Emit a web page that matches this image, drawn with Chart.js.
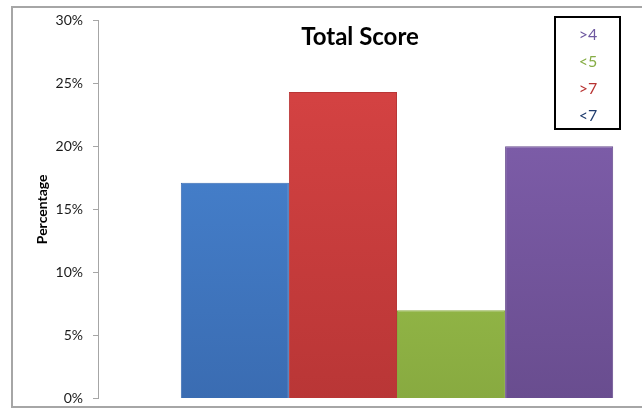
<!DOCTYPE html>
<html>
<head>
<meta charset="utf-8">
<script src="https://cdn.jsdelivr.net/npm/chart.js@4"></script>
<style>
  html, body { margin: 0; padding: 0; overflow: hidden; background: #fff; }
  #wrap { position: absolute; left: 0; top: 0; width: 700px; height: 417px; }
  #frame { position: absolute; left: 11px; top: 6px; width: 720px; height: 398px;
           border: 2px solid #a6a6a6; pointer-events: none; }
</style>
</head>
<body>
<div id="wrap"><canvas id="score_chart"></canvas></div>
<div id="frame"></div>
<script>
const seriesLabels = ['<7', '>7', '<5', '>4'];
const seriesValues = [17.1, 24.3, 7.0, 20.0];
const barTop = ['#4b8ad9', '#da4545', '#a8d155', '#8563b3'];
const barBottom = ['#3a6cb2', '#b93636', '#88aa40', '#694d8f'];
const legendText = ['#1f3c6e', '#b83332', '#86ad45', '#6e58a0'];
const categories = [''];

const font = 'Lato';

function gradientFor(i) {
    return (ctx) => {
        const area = ctx.chart.chartArea;
        if (!area) return barTop[i];
        const g = ctx.chart.ctx.createLinearGradient(0, area.top, 0, area.bottom);
        g.addColorStop(0, barTop[i]);
        g.addColorStop(1, barBottom[i]);
        return g;
    };
}

// title and legend box sit inside the plot, like the original
const overlay = {
    id: 'overlay',
    afterDraw(chart) {
        const c = chart.ctx;
        c.save();
        c.fillStyle = '#000';
        c.font = 'bold 24px ' + font;
        c.textAlign = 'center';
        c.textBaseline = 'middle';
        c.fillText('Total Score', 360, 37);

        c.fillStyle = '#fff';
        c.fillRect(555, 17, 65, 112);
        c.strokeStyle = '#000';
        c.lineWidth = 2;
        c.strokeRect(555, 17, 65, 112);
        c.font = '16px ' + font;
        for (let k = 0; k < seriesLabels.length; k++) {
            const i = seriesLabels.length - 1 - k;
            c.fillStyle = legendText[i];
            c.fillText(seriesLabels[i], 588, 35 + k * 27);
        }
        c.restore();
    }
};

new Chart(document.getElementById('score_chart'), {
    type: 'bar',
    data: {
        labels: categories,
        datasets: seriesLabels.map((label, i) => ({
            label: label,
            data: [seriesValues[i]],
            backgroundColor: gradientFor(i),
            borderColor: barBottom[i],
            borderWidth: 1,
            categoryPercentage: 0.723,
            barPercentage: 1
        }))
    },
    options: {
        responsive: true,
        maintainAspectRatio: false,
        animation: false,
        layout: { padding: { left: 0, right: 4, top: 20, bottom: 3 } },
        scales: {
            x: { display: false },
            y: {
                min: 0,
                max: 30,
                afterFit: (axis) => { axis.width = 98; },
                ticks: {
                    stepSize: 5,
                    padding: 10,
                    color: '#1a1a1a',
                    font: { family: font, size: 14 },
                    callback: (v) => v + '%'
                },
                grid: {
                    drawOnChartArea: false,
                    tickLength: 5,
                    color: '#a6a6a6'
                },
                border: { color: '#a6a6a6', width: 1 },
                title: {
                    display: true,
                    text: 'Percentage',
                    color: '#000',
                    font: { family: font, size: 14, weight: 'bold' },
                    padding: { top: 34, bottom: 0 }
                }
            }
        },
        plugins: {
            legend: { display: false },
            tooltip: { enabled: false }
        }
    },
    plugins: [overlay]
});
</script>
</body>
</html>
